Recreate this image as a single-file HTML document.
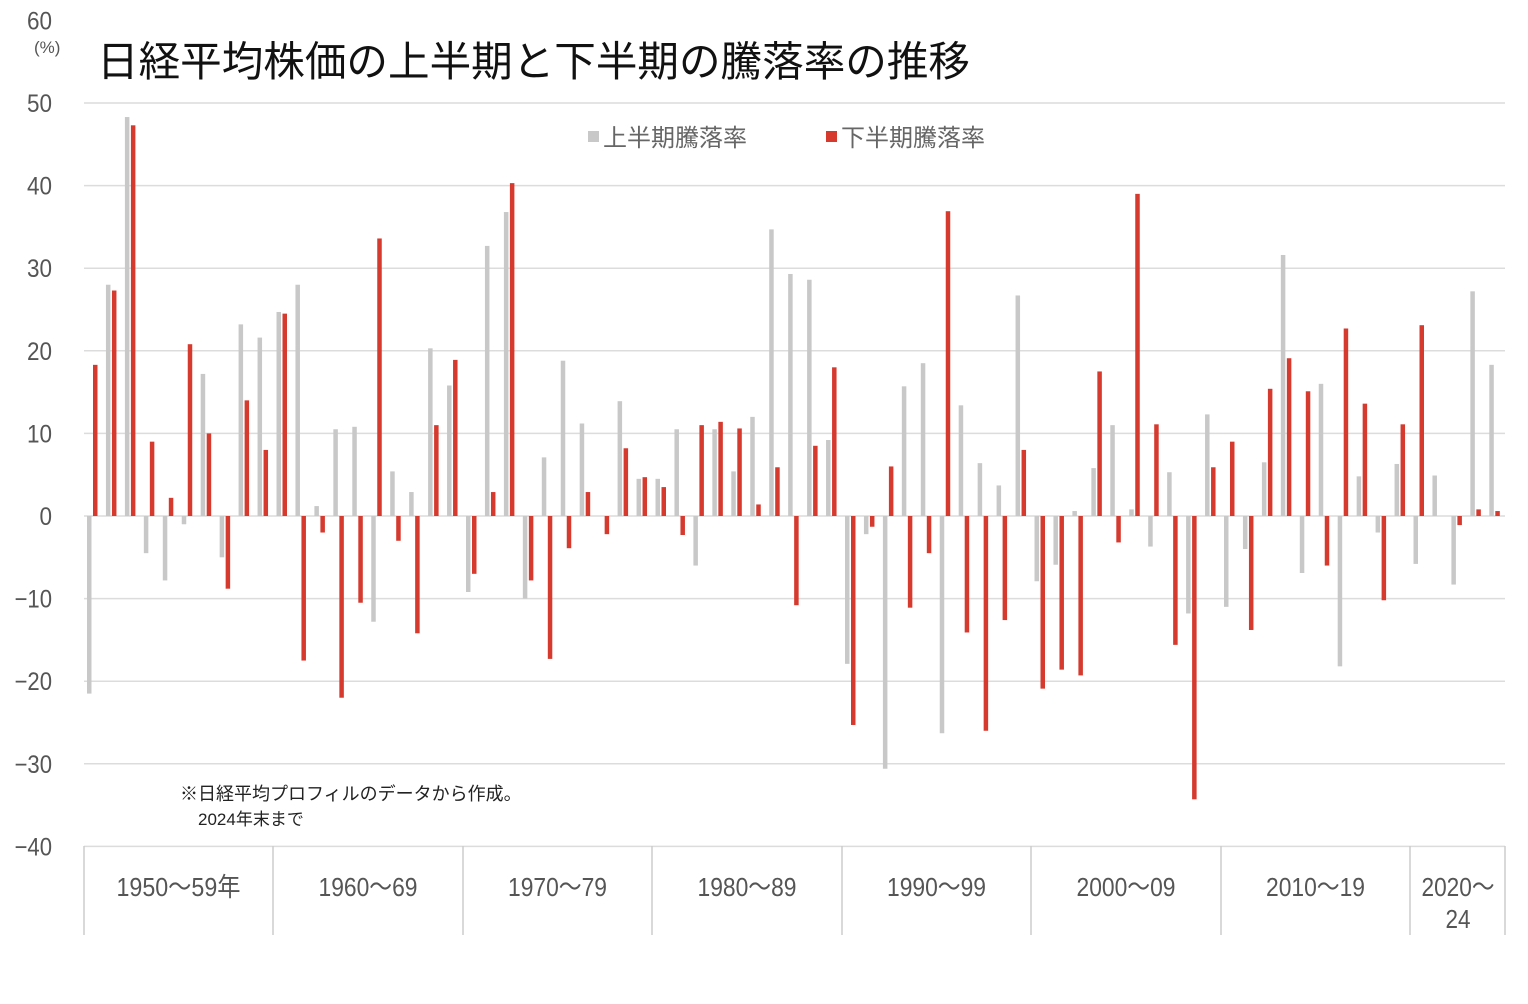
<!DOCTYPE html>
<html><head><meta charset="utf-8">
<style>
html,body{margin:0;padding:0;background:#fff;}
svg text{font-family:"Liberation Sans","Noto Sans CJK JP",sans-serif;}
</style></head>
<body>
<svg id="c" width="1528" height="999" xmlns="http://www.w3.org/2000/svg">
<rect width="1528" height="999" fill="#fff"/>
<g id="grid"></g>
<g id="bars"></g>
<text x="97" y="76" font-size="41.5" fill="#111" textLength="873" lengthAdjust="spacingAndGlyphs">日経平均株価の上半期と下半期の騰落率の推移</text>
<text x="34" y="53" font-size="17" fill="#555">(%)</text>
<rect x="588" y="131" width="11" height="11" fill="#c8c8c8"/>
<text x="603" y="146" font-size="24" fill="#666">上半期騰落率</text>
<rect x="826" y="131" width="11" height="11" fill="#d63a2f"/>
<text x="841" y="146" font-size="24" fill="#666">下半期騰落率</text>
<text x="180" y="800" font-size="18" fill="#222">※日経平均プロフィルのデータから作成。</text>
<text x="198" y="825" font-size="17" fill="#222">2024年末まで</text>
</svg>
<script>
var ns="http://www.w3.org/2000/svg";
function el(p,t,a,txt){var e=document.createElementNS(ns,t);for(var k in a)e.setAttribute(k,a[k]);if(txt)e.textContent=txt;p.appendChild(e);return e;}
var g=document.getElementById('grid'),b=document.getElementById('bars');
var z=516,s=8.26;
for(var v=60;v>=-40;v-=10){var y=z-v*s;
 if(v<60) el(g,'line',{x1:84,x2:1505,y1:y,y2:y,stroke:'#dcdcdc','stroke-width':1.5});
 var t=String(v).replace('-','−');
 el(g,'text',{x:52,y:y+9,'font-size':25,fill:'#555','text-anchor':'end',textLength:(t.length*12.5),lengthAdjust:'spacingAndGlyphs'},t);}
var bd=[84,273,463,652,842,1031,1221,1410,1505];
bd.forEach(function(x){el(g,'line',{x1:x,x2:x,y1:846,y2:935,stroke:'#ccc','stroke-width':1.5});});
var labs=['1950～59年','1960～69','1970～79','1980～89','1990～99','2000～09','2010～19'];
for(var i=0;i<7;i++) el(g,'text',{x:(bd[i]+bd[i+1])/2,y:896,'font-size':26,fill:'#555','text-anchor':'middle',textLength:(i==0?124:99),lengthAdjust:'spacingAndGlyphs'},labs[i]);
el(g,'text',{x:1458,y:896,'font-size':26,fill:'#555','text-anchor':'middle',textLength:73,lengthAdjust:'spacingAndGlyphs'},'2020～');
el(g,'text',{x:1458,y:928,'font-size':26,fill:'#555','text-anchor':'middle',textLength:25,lengthAdjust:'spacingAndGlyphs'},'24');
var G=[-21.5,28,48.3,-4.5,-7.8,-1,17.2,-5,23.2,21.6, 24.7,28,1.2,10.5,10.8,-12.8,5.4,2.9,20.3,15.8, -9.2,32.7,36.8,-10,7.1,18.8,11.2,0,13.9,4.5, 4.5,10.5,-6,10.5,5.4,12,34.7,29.3,28.6,9.2, -17.9,-2.2,-30.6,15.7,18.5,-26.3,13.4,6.4,3.7,26.7, -7.9,-5.9,0.6,5.8,11,0.8,-3.7,5.3,-11.8,12.3, -11,-4,6.5,31.6,-6.9,16,-18.2,4.8,-2,6.3, -5.8,4.9,-8.3,27.2,18.3];
var R=[18.3,27.3,47.3,9,2.2,20.8,10,-8.8,14,8, 24.5,-17.5,-2,-22,-10.5,33.6,-3,-14.2,11,18.9, -7,2.9,40.3,-7.8,-17.3,-3.9,2.9,-2.2,8.2,4.7, 3.5,-2.3,11,11.4,10.6,1.4,5.9,-10.8,8.5,18, -25.3,-1.3,6,-11.1,-4.5,36.9,-14.1,-26,-12.6,8, -20.9,-18.6,-19.3,17.5,-3.2,39,11.1,-15.6,-34.3,5.9, 9,-13.8,15.4,19.1,15.1,-6,22.7,13.6,-10.2,11.1, 23.1,0,-1.1,0.8,0.6];
function bar(x,v,c){var h=Math.abs(v)*s;el(b,'rect',{x:x,y:v>=0?z-h:z,width:4.5,height:h,fill:c});}
for(var i=0;i<75;i++){var x0=84+18.95*i;bar(x0+3,G[i],'#c8c8c8');bar(x0+9,R[i],'#d63a2f');}
</script>
</body></html>
